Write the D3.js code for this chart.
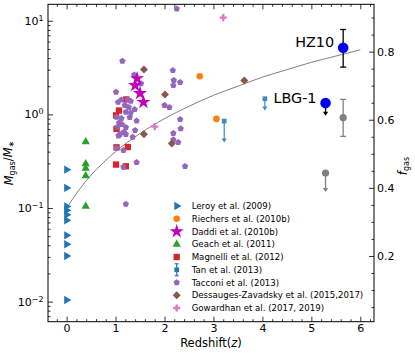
<!DOCTYPE html>
<html>
<head>
<meta charset="utf-8">
<script src="https://cdn.jsdelivr.net/npm/d3@7"></script>
<style>
  body { margin: 0; background: #fff; }
  svg { font-family: "DejaVu Sans", sans-serif; }
</style>
</head>
<body>
<svg id="chart" width="415" height="353"></svg>
<script>
/* gas fraction vs redshift */

// [redshift, Mgas/M*]
var leroy = [[0, 0.257], [0, 0.164], [0, 0.104], [0, 0.0945], [0, 0.0846], [0, 0.0739],
             [0, 0.0511], [0, 0.041], [0, 0.0307], [0, 0.0104]];
var riechers = [[2.72, 2.56], [3.06, 0.895]];
var daddi = [[1.44, 2.42], [1.40, 2.04], [1.50, 1.68], [1.57, 1.35]];
var geach = [[0.39, 0.509], [0.39, 0.296], [0.39, 0.265], [0.39, 0.221], [0.39, 0.104]];
var magnelli = [[1.01, 0.976], [1.07, 1.10], [1.22, 1.445], [1.02, 0.700], [1.02, 0.445],
                [1.25, 0.448], [1.01, 0.291], [1.21, 0.279]];
var tan = [[3.22, 0.848], [4.05, 1.47]];
var tanLow = [0.50, 1.10];
var tacconi = [[2.25, 13.4], [2.17, 2.95], [2.19, 2.31], [2.32, 2.20], [2.18, 2.04],
               [2.00, 1.25], [2.10, 1.19], [2.32, 0.884], [2.33, 0.704], [2.18, 0.627],
               [2.18, 0.537], [2.28, 0.503], [2.42, 0.279], [1.43, 0.307], [1.14, 3.71],
               [1.38, 2.65], [1.52, 2.14], [1.01, 1.73], [1.12, 1.43], [1.05, 1.35],
               [1.25, 1.43], [1.31, 1.39], [1.19, 1.25], [1.27, 1.19], [1.39, 1.13],
               [1.21, 1.06], [1.31, 1.04], [1.02, 0.936], [1.12, 0.906], [1.29, 0.929],
               [1.43, 0.852], [1.07, 0.811], [1.13, 0.782], [1.04, 0.732], [1.21, 0.727],
               [1.40, 0.675], [1.17, 0.647], [1.09, 0.612], [1.21, 0.612], [1.35, 0.573],
               [1.06, 0.590], [1.02, 0.437], [1.16, 0.413], [1.16, 0.274], [1.21, 0.110]];
var dessauges = [[1.58, 3.02], [2.01, 1.63], [3.63, 2.30], [1.58, 0.612], [2.15, 0.49]];
var gowardhan = [[3.20, 10.8], [1.80, 0.74]];

// the two targets (blue) and the other estimate (gray)
var blueNames = ['HZ10', 'LBG-1'];
var blueZ = [5.65, 5.29];
var blueVal = [5.15, 1.32];
var hz10Err = [3.2, 8.07];
var lbgLimit = 0.97;
var grayZ = [5.65, 5.29];
var grayVal = [0.922, 0.236];
var grayErr = [0.582, 1.445];
var grayLimit = 0.148;

// trend line
var trendZ = [0, 0.25, 0.5, 0.75, 1, 1.5, 2, 2.5, 3, 3.5, 4, 4.5, 5, 5.5, 6];
var trendVal = [0.1, 0.155, 0.225, 0.305, 0.40, 0.625, 0.90, 1.22, 1.6, 2.0, 2.5, 3.0, 3.6, 4.2, 4.9];

var xTicks = [0, 1, 2, 3, 4, 5, 6];
var yTicks = [0.01, 0.1, 1, 10];
var fTicks = [0.2, 0.4, 0.6, 0.8];

var legendNames = ['Leroy et al. (2009)', 'Riechers et al. (2010b)', 'Daddi et al. (2010b)',
  'Geach et al. (2011)', 'Magnelli et al. (2012)', 'Tan et al. (2013)', 'Tacconi et al. (2013)',
  'Dessauges-Zavadsky et al. (2015,2017)', 'Gowardhan et al. (2017, 2019)'];

var svg = d3.select('#chart');
var pLeft = 48, pRight = 374, pTop = 4.3, pBottom = 321.7;

var x = d3.scaleLinear().domain([-0.38, 6.28]).range([pLeft, pRight]);
var y = d3.scaleLog().domain([0.0061, 15]).range([pBottom, pTop]);
var fg = d3.scaleLinear().domain([0.007, 0.939]).range([pBottom, pTop]);

var pentagon = {
  draw: function(ctx, size) {
    var r = Math.sqrt(size / 2.378);
    for (var i = 0; i < 5; i++) {
      var a = -Math.PI / 2 + i * 2 * Math.PI / 5;
      if (i) ctx.lineTo(r * Math.cos(a), r * Math.sin(a));
      else ctx.moveTo(r * Math.cos(a), r * Math.sin(a));
    }
    ctx.closePath();
  }
};

var styles = [
  { data: leroy, type: d3.symbolTriangle, size: 30, color: '#1f77b4', rot: 90 },
  { data: riechers, type: d3.symbolCircle, size: 34, color: '#ff7f0e', rot: 0 },
  { data: daddi, type: d3.symbolStar, size: 62, color: '#bf00bf', rot: 0 },
  { data: geach, type: d3.symbolTriangle, size: 30, color: '#2ca02c', rot: 0 },
  { data: magnelli, type: d3.symbolSquare, size: 40, color: '#d62728', rot: 0 },
  { data: tan, type: d3.symbolSquare, size: 20, color: '#1f77b4', rot: 0 },
  { data: tacconi, type: pentagon, size: 26, color: '#9467bd', rot: 0 },
  { data: dessauges, type: d3.symbolSquare, size: 32, color: '#8c564b', rot: 45 },
  { data: gowardhan, type: d3.symbolCross, size: 28, color: '#e377c2', rot: 0 }
];

// ---- axes ----
function range(a, b, s) {
  var out = [];
  for (var v = a; v <= b + 1e-9; v += s) out.push(+v.toFixed(4));
  return out;
}
var xMinor = range(-0.2, 6.2, 0.2).filter(function(v) { return Math.abs(v - Math.round(v)) > 1e-6; });
var yMinor = [];
[0.001, 0.01, 0.1, 1, 10].forEach(function(d) {
  for (var m = 2; m <= 9; m++) {
    var v = m * d;
    if (v > 0.0061 && v < 15) yMinor.push(v);
  }
});
var fMinor = range(0.05, 0.9, 0.05).filter(function(v) { return fTicks.indexOf(v) < 0; });

function styleAxis(g) {
  g.select('.domain').remove();
  g.selectAll('line').attr('stroke', '#000').attr('stroke-width', 0.8);
  g.selectAll('text').attr('fill', '#000').attr('font-family', '"DejaVu Sans", sans-serif');
}

var xAxis = svg.append('g').attr('transform', 'translate(0,' + pBottom + ')')
  .call(d3.axisBottom(x).tickValues(xTicks).tickFormat(d3.format('d'))
    .tickSizeInner(-5).tickSizeOuter(0).tickPadding(3));
xAxis.call(styleAxis).selectAll('text').attr('font-size', 11);
svg.append('g').attr('transform', 'translate(0,' + pBottom + ')')
  .call(d3.axisBottom(x).tickValues(xMinor).tickFormat('').tickSizeInner(-2.5).tickSizeOuter(0))
  .call(styleAxis);

svg.append('g').attr('transform', 'translate(0,' + pTop + ')')
  .call(d3.axisTop(x).tickValues(xTicks).tickFormat('').tickSizeInner(-5).tickSizeOuter(0))
  .call(styleAxis);
svg.append('g').attr('transform', 'translate(0,' + pTop + ')')
  .call(d3.axisTop(x).tickValues(xMinor).tickFormat('').tickSizeInner(-2.5).tickSizeOuter(0))
  .call(styleAxis);

var yAxis = svg.append('g').attr('transform', 'translate(' + pLeft + ',0)')
  .call(d3.axisLeft(y).tickValues(yTicks).tickSizeInner(-5).tickSizeOuter(0).tickPadding(4.5));
yAxis.call(styleAxis);
yAxis.selectAll('.tick text').each(function(d) {
  var e = Math.round(Math.log10(d));
  var t = d3.select(this).text('').attr('font-size', 11);
  t.append('tspan').text('10');
  t.append('tspan').attr('dy', '-0.5em').attr('font-size', '0.72em')
    .text(e < 0 ? '\u2212' + (-e) : e);
});
svg.append('g').attr('transform', 'translate(' + pLeft + ',0)')
  .call(d3.axisLeft(y).tickValues(yMinor).tickFormat('').tickSizeInner(-2.5).tickSizeOuter(0))
  .call(styleAxis);

var fAxis = svg.append('g').attr('transform', 'translate(' + pRight + ',0)')
  .call(d3.axisRight(fg).tickValues(fTicks).tickFormat(d3.format('.1f'))
    .tickSizeInner(-5).tickSizeOuter(0).tickPadding(3));
fAxis.call(styleAxis).selectAll('text').attr('font-size', 11);
svg.append('g').attr('transform', 'translate(' + pRight + ',0)')
  .call(d3.axisRight(fg).tickValues(fMinor).tickFormat('').tickSizeInner(-2.5).tickSizeOuter(0))
  .call(styleAxis);

// ---- trend line ----
var line = d3.line()
  .x(function(d, i) { return x(trendZ[i]); })
  .y(function(d) { return y(d); })
  .curve(d3.curveMonotoneX);
svg.append('path').datum(trendVal)
  .attr('d', line)
  .attr('fill', 'none')
  .attr('stroke', '#808080')
  .attr('stroke-width', 1);

// ---- literature points ----
var plot = svg.append('g');
var order = [0, 1, 3, 4, 6, 2, 7, 8];
order.forEach(function(k) {
  var s = styles[k];
  plot.selectAll(null).data(s.data).enter().append('path')
    .attr('d', d3.symbol().type(s.type).size(s.size))
    .attr('transform', function(d) {
      return 'translate(' + x(d[0]) + ',' + y(d[1]) + ')' + (s.rot ? ' rotate(' + s.rot + ')' : '');
    })
    .attr('fill', s.color);
});

// Tan et al. upper limits
function downArrow(g, cx, y0, y1, color, w) {
  g.append('line').attr('x1', cx).attr('x2', cx).attr('y1', y0).attr('y2', y1 - 3)
    .attr('stroke', color).attr('stroke-width', w);
  g.append('path').attr('d', 'M' + (cx - 2.6) + ',' + (y1 - 4) + 'L' + (cx + 2.6) + ',' + (y1 - 4) + 'L' + cx + ',' + y1 + 'Z')
    .attr('fill', color);
}
tan.forEach(function(d, i) {
  var g = plot.append('g').attr('opacity', 0.85);
  downArrow(g, x(d[0]), y(d[1]), y(tanLow[i]), '#1f77b4', 1.2);
  g.append('path').attr('d', d3.symbol().type(d3.symbolSquare).size(22))
    .attr('transform', 'translate(' + x(d[0]) + ',' + y(d[1]) + ')')
    .attr('fill', '#1f77b4');
});

// ---- gray estimates ----
var capW = 3;
function errBar(cx, lo, hi, color) {
  var y0 = y(lo), y1 = y(hi);
  svg.append('line').attr('x1', cx).attr('x2', cx).attr('y1', y0).attr('y2', y1)
    .attr('stroke', color).attr('stroke-width', 1.3);
  [y0, y1].forEach(function(yy) {
    svg.append('line').attr('x1', cx - capW).attr('x2', cx + capW).attr('y1', yy).attr('y2', yy)
      .attr('stroke', color).attr('stroke-width', 1.3);
  });
}
errBar(x(grayZ[0]), grayErr[0], grayErr[1], '#808080');
downArrow(svg, x(grayZ[1]), y(grayVal[1]), y(grayLimit), '#808080', 1.3);
svg.selectAll(null).data(grayVal).enter().append('circle')
  .attr('cx', function(d, i) { return x(grayZ[i]); })
  .attr('cy', function(d) { return y(d); })
  .attr('r', 3.6)
  .attr('fill', '#808080');

// ---- HZ10 / LBG-1 ----
errBar(x(blueZ[0]), hz10Err[0], hz10Err[1], '#000');
downArrow(svg, x(blueZ[1]), y(blueVal[1]), y(lbgLimit), '#000', 1.3);
svg.selectAll(null).data(blueVal).enter().append('circle')
  .attr('cx', function(d, i) { return x(blueZ[i]); })
  .attr('cy', function(d) { return y(d); })
  .attr('r', 5.3)
  .attr('fill', '#0000ff');
svg.selectAll(null).data(blueNames).enter().append('text')
  .attr('x', function(d, i) { return x(blueZ[i]) - 9; })
  .attr('y', function(d, i) { return y(blueVal[i]) - 0.5; })
  .attr('text-anchor', 'end')
  .attr('font-size', 14.4)
  .text(function(d) { return d; });

// ---- frame ----
svg.append('rect').attr('x', pLeft).attr('y', pTop)
  .attr('width', pRight - pLeft).attr('height', pBottom - pTop)
  .attr('fill', 'none').attr('stroke', '#000').attr('stroke-width', 1);

// ---- axis labels ----
svg.append('text')
  .attr('x', (pLeft + pRight) / 2).attr('y', 347)
  .attr('text-anchor', 'middle').attr('font-size', 11.5)
  .call(function(t) {
    t.append('tspan').text('Redshift(');
    t.append('tspan').attr('font-style', 'italic').text('z');
    t.append('tspan').text(')');
  });

var yl = svg.append('text')
  .attr('transform', 'translate(13,' + ((pTop + pBottom) / 2) + ') rotate(-90)')
  .attr('text-anchor', 'middle').attr('font-size', 11.5);
yl.append('tspan').attr('font-style', 'italic').text('M');
yl.append('tspan').attr('font-size', '0.7em').attr('dy', '0.3em').text('gas');
yl.append('tspan').attr('dy', '-0.3em').text('/');
yl.append('tspan').attr('font-style', 'italic').text('M');
yl.append('tspan').attr('font-size', '0.7em').attr('dy', '0.3em').text('\u2217');

var fl = svg.append('text')
  .attr('transform', 'translate(407,166) rotate(-90)')
  .attr('text-anchor', 'middle').attr('font-size', 11.5);
fl.append('tspan').attr('font-style', 'italic').text('f');
fl.append('tspan').attr('font-size', '0.7em').attr('dy', '0.3em').text('gas');

// ---- legend ----
var legend = svg.append('g')
  .selectAll('g').data(legendNames).enter().append('g')
  .attr('transform', function(d, i) { return 'translate(176.7,' + (206 + i * 12.75) + ')'; });

legend.each(function(d, i) {
  var g = d3.select(this);
  var s = styles[i];
  if (i === 5) {
    g.append('line').attr('y1', -6).attr('y2', 6).attr('stroke', s.color).attr('stroke-width', 1.2);
    g.append('line').attr('x1', -2).attr('x2', 2).attr('y1', -6).attr('y2', -6).attr('stroke', s.color).attr('stroke-width', 1.2);
    g.append('line').attr('x1', -2).attr('x2', 2).attr('y1', 6).attr('y2', 6).attr('stroke', s.color).attr('stroke-width', 1.2);
  }
  g.append('path')
    .attr('d', d3.symbol().type(s.type).size(i === 5 ? 22 : s.size))
    .attr('transform', s.rot ? 'rotate(' + s.rot + ')' : null)
    .attr('fill', s.color);
  g.append('text').attr('x', 15).attr('dy', '0.35em')
    .attr('font-size', 8.6).text(d);
});
</script>
</body>
</html>
